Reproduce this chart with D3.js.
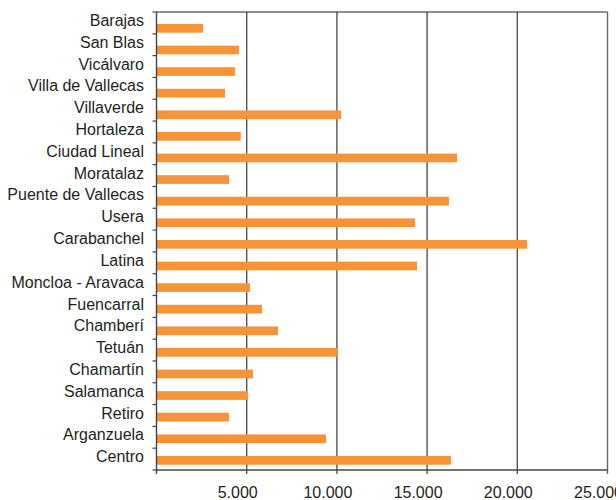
<!DOCTYPE html>
<html>
<head>
<meta charset="utf-8">
<script src="https://cdn.jsdelivr.net/npm/d3@7"></script>
<style>
  body { margin: 0; background: #fff; }
  svg text { font-family: "Liberation Sans", Arial, sans-serif; fill: #231f20; }
</style>
</head>
<body>
<svg width="616" height="500"></svg>
<script>
// districts from top to bottom as drawn
const distritos = ["Barajas", "San Blas", "Vicálvaro", "Villa de Vallecas", "Villaverde", "Hortaleza",
  "Ciudad Lineal", "Moratalaz", "Puente de Vallecas", "Usera", "Carabanchel", "Latina",
  "Moncloa - Aravaca", "Fuencarral", "Chamberí", "Tetuán", "Chamartín", "Salamanca",
  "Retiro", "Arganzuela", "Centro"];
const valores = [2580, 4570, 4350, 3800, 10230, 4670,
  16660, 4020, 16210, 14330, 20540, 14440,
  5180, 5850, 6740, 10040, 5350, 5070,
  4020, 9400, 16320];
const ticks = [5000, 10000, 15000, 20000, 25000];
const tickLabels = ["5.000", "10.000", "15.000", "20.000", "25.000"];

const plotLeft = 156.5, plotRight = 607.5, plotTop = 12, plotBottom = 470;

let svg = d3.select("svg");

let x = d3.scaleLinear().domain([0, 25000]).range([plotLeft, plotRight]);
let y = d3.scaleBand().domain(distritos).range([plotTop, plotBottom]);
// bars sit slightly lower inside each band
let yBar = d3.scaleBand().domain(distritos).range([24, 24 + 21 * 21.6]);

// grid lines
svg.append("g")
    .selectAll("line")
    .data(ticks.slice(0, 4))
    .enter()
    .append("line")
    .attr("x1", d => x(d)).attr("x2", d => x(d))
    .attr("y1", plotTop).attr("y2", plotBottom + 4)
    .attr("stroke", "#555")
    .attr("stroke-width", 1.4);

// frame: top + right
svg.append("line")
    .attr("x1", plotLeft).attr("x2", plotRight)
    .attr("y1", plotTop).attr("y2", plotTop)
    .attr("stroke", "#231f20").attr("stroke-width", 1);
svg.append("line")
    .attr("x1", x(25000)).attr("x2", x(25000))
    .attr("y1", plotTop).attr("y2", plotBottom + 4)
    .attr("stroke", "#666").attr("stroke-width", 1.4);

// bars
svg.append("g")
    .selectAll("rect")
    .data(valores)
    .enter()
    .append("rect")
    .attr("x", x(0))
    .attr("y", (d, i) => yBar(distritos[i]))
    .attr("width", d => x(d) - x(0))
    .attr("height", 8.7)
    .attr("fill", "#f7943a");

// left axis
svg.append("line")
    .attr("x1", plotLeft).attr("x2", plotLeft)
    .attr("y1", plotTop).attr("y2", plotBottom + 4)
    .attr("stroke", "#444").attr("stroke-width", 1.4);
svg.append("g")
    .selectAll("line")
    .data(distritos.concat(["_end"]))
    .enter()
    .append("line")
    .attr("x1", plotLeft - 4).attr("x2", plotLeft)
    .attr("y1", (d, i) => plotTop + i * y.step())
    .attr("y2", (d, i) => plotTop + i * y.step())
    .attr("stroke", "#444").attr("stroke-width", 1.2);

// bottom axis
svg.append("line")
    .attr("x1", plotLeft).attr("x2", plotRight)
    .attr("y1", plotBottom).attr("y2", plotBottom)
    .attr("stroke", "#444").attr("stroke-width", 1.4);

// category labels
svg.append("g")
    .selectAll("text")
    .data(distritos)
    .enter()
    .append("text")
    .attr("x", 144)
    .attr("y", d => y(d) + 14)
    .attr("text-anchor", "end")
    .attr("font-size", "16px")
    .text(d => d);

// value labels
svg.append("g")
    .selectAll("text")
    .data(ticks)
    .enter()
    .append("text")
    .attr("x", d => x(d) - 9)
    .attr("y", 498)
    .attr("text-anchor", "middle")
    .attr("font-size", "16px")
    .text((d, i) => tickLabels[i]);
</script>
</body>
</html>
